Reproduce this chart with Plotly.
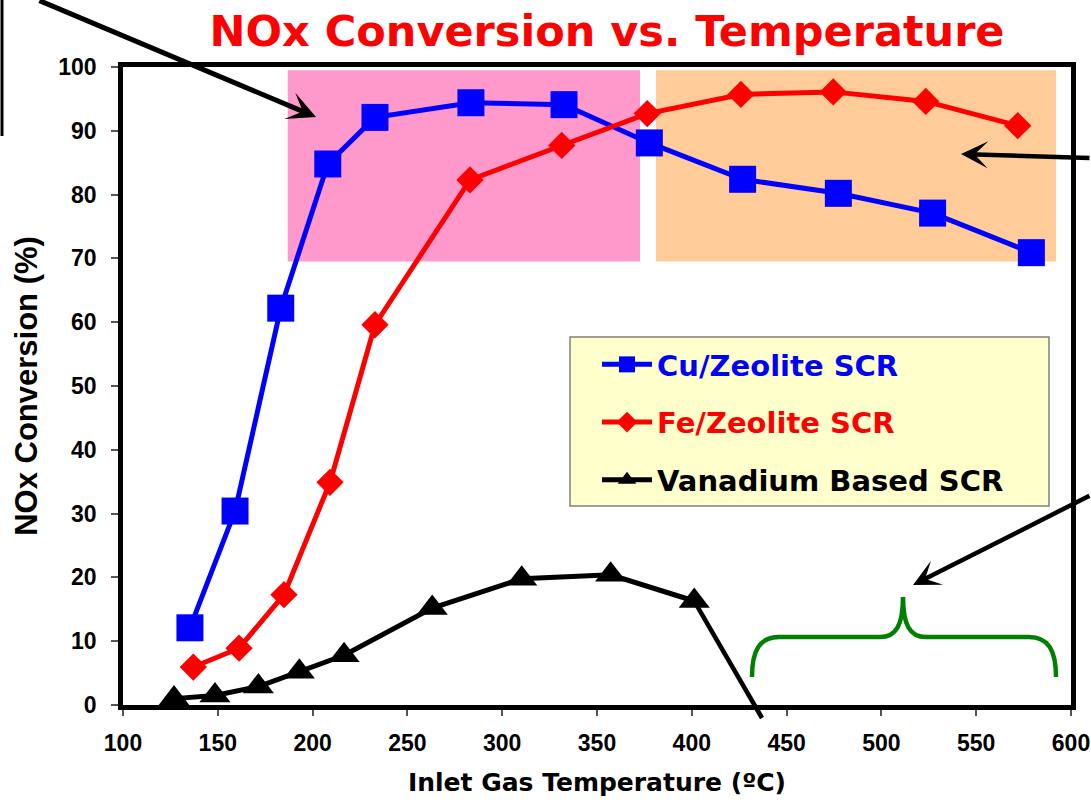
import plotly.graph_objects as go

# ---------------- data ----------------
cu_temp = [135.3, 159.1, 183.2, 208.0, 232.9, 283.5, 332.6, 377.6, 426.8, 477.3, 527.0, 579.1]
cu_conv = [12.1, 30.4, 62.2, 84.8, 92.1, 94.4, 94.1, 88.1, 82.4, 80.2, 77.1, 70.9]

fe_temp = [137.1, 161.2, 184.9, 209.2, 232.9, 283.0, 331.4, 376.5, 425.9, 474.6, 523.4, 571.9]
fe_conv = [5.95, 8.9, 17.3, 34.9, 59.6, 82.3, 87.7, 92.7, 95.7, 96.1, 94.6, 90.8]

v_temp = [126.9, 148.5, 171.4, 193.0, 216.6, 263.1, 310.3, 357.2, 401.3]
v_conv = [1.0, 1.5, 2.9, 5.2, 7.8, 15.2, 19.8, 20.4, 16.3]

series_names = ["Cu/Zeolite SCR", "Fe/Zeolite SCR", "Vanadium Based SCR"]

x_ticks = [100, 150, 200, 250, 300, 350, 400, 450, 500, 550, 600]
y_ticks = [0, 10, 20, 30, 40, 50, 60, 70, 80, 90, 100]

# highlighted temperature windows (data units)
pink_x = [186.9, 372.7]
orange_x = [381.1, 592.1]
window_y = [69.5, 99.5]

# ---------------- layout geometry ----------------
W, H = 1091, 804
L, R, T, B = 123, 1071, 67, 705


def px(xp, yp):
    """pixel -> paper coordinates"""
    return (xp - L) / (R - L), (B - yp) / (B - T)


def d2px(xd, yd):
    return L + (xd - 100) / 500 * (R - L), B - yd / 100 * (B - T)


fig = go.Figure()

fig.add_trace(go.Scatter(
    x=cu_temp, y=cu_conv, mode="lines+markers",
    name="<span style='color:#0000FF'>" + series_names[0] + "</span>",
    legendgroup="cu",
    line=dict(color="#0000FF", width=5),
    marker=dict(symbol="square", size=27, color="#0000FF", line=dict(width=0)),
))
fig.add_trace(go.Scatter(
    x=fe_temp, y=fe_conv, mode="lines+markers",
    name="<span style='color:#FF0000'>" + series_names[1] + "</span>",
    legendgroup="fe",
    line=dict(color="#FF0000", width=5),
    marker=dict(symbol="diamond", size=21, color="#FF0000", line=dict(width=0)),
))
fig.add_trace(go.Scatter(
    x=v_temp, y=v_conv, mode="lines+markers",
    name="<span style='color:#000000'>" + series_names[2] + "</span>",
    legendgroup="v",
    line=dict(color="#000000", width=5),
    marker=dict(symbol="triangle-up", size=27, color="#000000", line=dict(width=0)),
))

shapes = []
# shaded windows
shapes.append(dict(type="rect", xref="x", yref="y", x0=pink_x[0], x1=pink_x[1],
                   y0=window_y[0], y1=window_y[1], fillcolor="#FF99CC",
                   line=dict(width=0), layer="below"))
shapes.append(dict(type="rect", xref="x", yref="y", x0=orange_x[0], x1=orange_x[1],
                   y0=window_y[0], y1=window_y[1], fillcolor="#FFCC99",
                   line=dict(width=0), layer="below"))

# legend background box
lb0 = px(570, 506)
lb1 = px(1049, 337)
shapes.append(dict(type="rect", xref="paper", yref="paper", x0=lb0[0], y0=lb0[1],
                   x1=lb1[0], y1=lb1[1], fillcolor="#FFFFCC",
                   line=dict(color="#808080", width=1.5), layer="below"))

# extension line from last vanadium point going down
sx, sy = d2px(v_temp[-1], v_conv[-1])
a = px(sx, sy)
b = px(762, 718)
shapes.append(dict(type="line", xref="paper", yref="paper", x0=a[0], y0=a[1],
                   x1=b[0], y1=b[1], line=dict(color="black", width=4.5)))

# left vertical line (edge of off-chart box)
p0 = px(2, -5)
p1 = px(2, 136)
shapes.append(dict(type="line", xref="paper", yref="paper", x0=p0[0], y0=p0[1],
                   x1=p1[0], y1=p1[1], line=dict(color="black", width=3)))

# green curly brace
brace_pts = [
    ("M", [(752, 677)]),
    ("C", [(752, 650), (760, 637), (779, 637)]),
    ("L", [(880, 637)]),
    ("C", [(896, 637), (903, 625), (903, 597)]),
    ("C", [(903, 625), (910, 637), (926, 637)]),
    ("L", [(1029, 637)]),
    ("C", [(1048, 637), (1056, 650), (1056, 677)]),
]
path = ""
for cmd, pts in brace_pts:
    path += cmd + " " + " ".join("%.5f,%.5f" % px(*p) for p in pts) + " "
shapes.append(dict(type="path", xref="paper", yref="paper", path=path.strip(),
                   line=dict(color="#008000", width=4.5)))

annotations = []


def arrow(tip, tail, width, size):
    tx, ty = px(*tip)
    annotations.append(dict(
        x=tx, y=ty, xref="paper", yref="paper", text="", showarrow=True,
        ax=tail[0] - tip[0], ay=tail[1] - tip[1], axref="pixel", ayref="pixel",
        arrowhead=3, arrowsize=size, arrowwidth=width, arrowcolor="black",
        standoff=0,
    ))


arrow((316, 117), (38, -5), 5, 0.95)
arrow((961, 154), (1095, 158), 4.5, 1.0)
arrow((913, 585), (1095, 495), 4.5, 1.0)

fig.update_layout(
    width=W, height=H,
    margin=dict(l=L, r=W - R, t=T, b=H - B, autoexpand=False),
    paper_bgcolor="white", plot_bgcolor="white",
    title=dict(
        text="NOx Conversion vs. Temperature",
        font=dict(family="DejaVu Sans", size=43, color="#FF0000", weight="bold"),
        x=607 / W, xref="container", xanchor="center",
        y=1 - 31 / H, yref="container", yanchor="middle",
    ),
    xaxis=dict(
        range=[100, 600], tickvals=x_ticks, ticktext=[str(v) for v in x_ticks],
        showgrid=False, zeroline=False,
        showline=True, linecolor="black", linewidth=4.5, mirror=True,
        ticks="outside", ticklen=6, tickwidth=1.5, tickcolor="#555555",
        tickfont=dict(family="Liberation Sans", size=23, color="black", weight="bold"),
        ticklabelstandoff=8,
        title=dict(text="Inlet Gas Temperature (ºC)",
                   font=dict(family="DejaVu Sans", size=25, color="black", weight="bold"),
                   standoff=20),
        automargin=False,
    ),
    yaxis=dict(
        range=[0, 100], tickvals=y_ticks, ticktext=[str(v) for v in y_ticks],
        showgrid=False, zeroline=False,
        showline=True, linecolor="black", linewidth=4.5, mirror=True,
        ticks="outside", ticklen=7, tickwidth=1.5, tickcolor="#555555",
        tickfont=dict(family="Liberation Sans", size=23, color="black", weight="bold"),
        ticklabelstandoff=10,
        title=dict(text="NOx Conversion (%)",
                   font=dict(family="Liberation Sans", size=31, color="black", weight="bold"),
                   standoff=13),
        automargin=False,
    ),
    showlegend=True,
    legend=dict(
        x=(597 - L) / (R - L), y=(B - 339) / (B - T), xanchor="left", yanchor="top",
        xref="paper", yref="paper",
        bgcolor="rgba(0,0,0,0)", borderwidth=0,
        font=dict(family="DejaVu Sans", size=29, color="black", weight="bold"),
        tracegroupgap=17, traceorder="grouped", itemwidth=50,
    ),
    shapes=shapes,
    annotations=annotations,
)

fig.write_html("out.html")
